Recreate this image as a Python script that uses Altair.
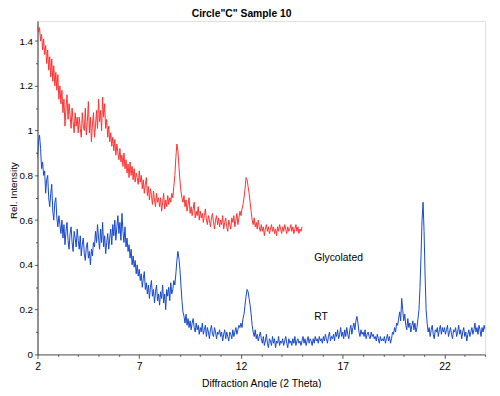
import altair as alt
import pandas as pd

# Sampling grid start/step (2-theta)
x_start = 2.0
x_step = 0.05

rt_values = [
    0.88, 0.95, 0.98, 0.92, 0.83, 0.86, 0.80, 0.82, 0.72, 0.78, 0.80, 0.70, 0.66, 0.72, 0.76, 0.64, 0.60, 0.68, 0.70, 0.61,
    0.57, 0.62, 0.58, 0.54, 0.60, 0.52, 0.58, 0.49, 0.55, 0.59, 0.51, 0.47, 0.54, 0.57, 0.50, 0.46, 0.55, 0.52, 0.48, 0.56,
    0.51, 0.47, 0.53, 0.44, 0.49, 0.52, 0.45, 0.42, 0.48, 0.50, 0.43, 0.46, 0.40, 0.47, 0.44, 0.50, 0.48, 0.55, 0.50, 0.58,
    0.52, 0.47, 0.56, 0.50, 0.59, 0.48, 0.53, 0.45, 0.50, 0.54, 0.47, 0.52, 0.56, 0.49, 0.58, 0.53, 0.60, 0.51, 0.57, 0.62,
    0.54, 0.59, 0.51, 0.63, 0.55, 0.50, 0.57, 0.48, 0.52, 0.46, 0.49, 0.43, 0.47, 0.40, 0.44, 0.39, 0.42, 0.36, 0.40, 0.35,
    0.38, 0.33, 0.36, 0.30, 0.34, 0.37, 0.29, 0.32, 0.27, 0.31, 0.25, 0.30, 0.33, 0.26, 0.29, 0.23, 0.28, 0.31, 0.24, 0.27,
    0.22, 0.28, 0.25, 0.31, 0.23, 0.27, 0.20, 0.29, 0.26, 0.30, 0.24, 0.32, 0.27, 0.29, 0.33, 0.31, 0.36, 0.42, 0.46, 0.43,
    0.38, 0.31, 0.24, 0.19, 0.17, 0.14, 0.18, 0.13, 0.16, 0.12, 0.15, 0.11, 0.14, 0.16, 0.12, 0.10, 0.14, 0.11, 0.13, 0.09,
    0.12, 0.10, 0.14, 0.09, 0.11, 0.13, 0.08, 0.12, 0.10, 0.07, 0.11, 0.13, 0.09, 0.08, 0.12, 0.10, 0.07, 0.10, 0.09, 0.11,
    0.08, 0.10, 0.06, 0.09, 0.11, 0.07, 0.10, 0.08, 0.06, 0.10, 0.09, 0.07, 0.11, 0.08, 0.10, 0.12, 0.09, 0.11, 0.13, 0.12,
    0.14, 0.12, 0.16, 0.18, 0.22, 0.26, 0.29, 0.28, 0.25, 0.22, 0.18, 0.13, 0.10, 0.08, 0.11, 0.07, 0.09, 0.06, 0.08, 0.10,
    0.07, 0.05, 0.08, 0.04, 0.06, 0.09, 0.05, 0.03, 0.07, 0.06, 0.04, 0.08, 0.05, 0.07, 0.03, 0.06, 0.05, 0.08, 0.04, 0.06,
    0.05, 0.07, 0.04, 0.06, 0.08, 0.05, 0.03, 0.07, 0.05, 0.06, 0.04, 0.07, 0.05, 0.08, 0.04, 0.06, 0.07, 0.05, 0.06, 0.04,
    0.06, 0.08, 0.05, 0.07, 0.04, 0.06, 0.08, 0.05, 0.07, 0.06, 0.04, 0.07, 0.05, 0.08, 0.06, 0.07, 0.05, 0.08, 0.06, 0.07,
    0.05, 0.08, 0.06, 0.09, 0.07, 0.05, 0.08, 0.10, 0.06, 0.08, 0.07, 0.09, 0.06, 0.10, 0.08, 0.11, 0.07, 0.09, 0.12, 0.08,
    0.10, 0.07, 0.11, 0.08, 0.12, 0.09, 0.07, 0.11, 0.13, 0.09, 0.12, 0.14, 0.11, 0.15, 0.17, 0.14, 0.10, 0.08, 0.11, 0.09,
    0.10, 0.08, 0.11, 0.07, 0.09, 0.10, 0.08, 0.07, 0.10, 0.08, 0.09, 0.07, 0.08, 0.06, 0.09, 0.07, 0.05, 0.08, 0.06, 0.07,
    0.06, 0.08, 0.05, 0.07, 0.09, 0.06, 0.08, 0.05, 0.07, 0.10, 0.09, 0.12, 0.10, 0.14, 0.13, 0.16, 0.19, 0.15, 0.25, 0.20,
    0.15, 0.18, 0.13, 0.11, 0.16, 0.12, 0.14, 0.10, 0.13, 0.15, 0.11, 0.14, 0.10, 0.12, 0.16, 0.20, 0.30, 0.44, 0.60, 0.68,
    0.55, 0.35, 0.20, 0.14, 0.10, 0.12, 0.08, 0.11, 0.13, 0.09, 0.07, 0.11, 0.10, 0.12, 0.08, 0.11, 0.13, 0.09, 0.12, 0.10,
    0.12, 0.09, 0.11, 0.13, 0.08, 0.10, 0.12, 0.09, 0.07, 0.11, 0.10, 0.12, 0.08, 0.10, 0.13, 0.09, 0.11, 0.07, 0.10, 0.12,
    0.08, 0.10, 0.06, 0.09, 0.11, 0.08, 0.10, 0.12, 0.09, 0.11, 0.14, 0.10, 0.12, 0.09, 0.13, 0.11, 0.08, 0.12, 0.10, 0.13,
    0.11,
]

gly_values = [
    1.47, 1.44, 1.46, 1.40, 1.43, 1.36, 1.41, 1.34, 1.38, 1.30, 1.36, 1.27, 1.33, 1.24, 1.32, 1.22, 1.29, 1.20, 1.26, 1.18,
    1.25, 1.14, 1.20, 1.12, 1.18, 1.08, 1.14, 1.02, 1.10, 1.16, 1.05, 1.12, 1.07, 1.01, 1.10, 1.04, 0.99, 1.08, 1.02, 1.06,
    0.99, 1.06, 1.01, 0.97, 1.08, 1.02, 1.00, 1.10, 0.98, 1.04, 1.13, 0.99, 1.06, 0.95, 1.03, 1.08, 0.97, 1.02, 1.09, 1.01,
    1.14, 1.04, 1.09, 1.00, 1.15, 1.06, 1.12, 1.01, 1.05, 0.97, 1.02, 0.95, 0.99, 0.93, 0.97, 0.91, 0.96, 0.89, 0.94, 0.90,
    0.87, 0.92, 0.86, 0.89, 0.84, 0.90, 0.83, 0.87, 0.81, 0.85, 0.79, 0.86, 0.80, 0.84, 0.78, 0.83, 0.77, 0.81, 0.79, 0.76,
    0.82, 0.77, 0.80, 0.74, 0.78, 0.72, 0.76, 0.79, 0.71, 0.75, 0.69, 0.74, 0.71, 0.67, 0.73, 0.69, 0.66, 0.72, 0.68, 0.70,
    0.66, 0.70, 0.64, 0.68, 0.72, 0.65, 0.69, 0.66, 0.71, 0.67, 0.70, 0.68, 0.72, 0.70, 0.75, 0.80, 0.88, 0.94, 0.91, 0.84,
    0.78, 0.73, 0.70, 0.68, 0.71, 0.66, 0.69, 0.64, 0.67, 0.70, 0.63, 0.66, 0.62, 0.65, 0.68, 0.61, 0.64, 0.62, 0.66, 0.60,
    0.64, 0.61, 0.63, 0.59, 0.62, 0.65, 0.60, 0.58, 0.62, 0.60, 0.57, 0.61, 0.63, 0.59, 0.56, 0.60, 0.62, 0.58, 0.61, 0.57,
    0.60, 0.58, 0.62, 0.56, 0.59, 0.61, 0.57, 0.55, 0.60, 0.58, 0.56, 0.61, 0.59, 0.62, 0.57, 0.60, 0.63, 0.58, 0.61, 0.64,
    0.62, 0.65, 0.67, 0.70, 0.74, 0.79, 0.78, 0.75, 0.72, 0.68, 0.64, 0.60, 0.58, 0.61, 0.57, 0.59, 0.56, 0.60, 0.57, 0.55,
    0.58, 0.55, 0.57, 0.53, 0.56, 0.58, 0.55, 0.57, 0.54, 0.56, 0.58, 0.55, 0.57, 0.54, 0.56, 0.53, 0.57, 0.55, 0.58, 0.56,
    0.54, 0.57, 0.55, 0.58, 0.56, 0.54, 0.57, 0.55, 0.56, 0.58, 0.55, 0.57, 0.54, 0.56, 0.58, 0.55, 0.57, 0.54, 0.56, 0.55,
    0.57,
]

label_texts = ["Glycolated", "RT"]
label_x = [15.6, 15.6]
label_y = [0.43, 0.165]

rows = []
for i, v in enumerate(rt_values):
    rows.append({"x": round(x_start + x_step * i, 2), "y": v, "series": "RT", "order": i})
for i, v in enumerate(gly_values):
    rows.append({"x": round(x_start + x_step * i, 2), "y": v, "series": "Glycolated", "order": i})
df = pd.DataFrame(rows)
labels = pd.DataFrame({"x": label_x, "y": label_y, "text": label_texts})

FONT = "Liberation Sans"

xs = alt.Scale(domain=[2, 24], nice=False, zero=False)
ys = alt.Scale(domain=[0, 1.49], nice=False, zero=True)

x_axis = alt.Axis(
    values=list(range(2, 25)),
    labelExpr="(datum.value - 2) % 5 == 0 ? datum.label : ''",
    tickSize={"condition": {"test": "(datum.value - 2) % 5 == 0", "value": 4}, "value": 2},
    grid=False, title="Diffraction Angle (2 Theta)",
    labelFont=FONT, labelFontSize=10.5, labelColor="black", labelPadding=3, labelOverlap=False,
    titleFont=FONT, titleFontSize=10.5, titleFontWeight="normal", titleColor="black",
    titlePadding=7, domainColor="#555", tickColor="#555", labelFlush=False,
)
y_axis = alt.Axis(
    values=[round(0.1 * k, 1) for k in range(15)],
    labelExpr="round(datum.value * 10) % 2 == 0 ? format(datum.value, '~g') : ''",
    tickSize={"condition": {"test": "round(datum.value * 10) % 2 == 0", "value": 3}, "value": 2},
    grid=False, title="Rel. Intensity",
    labelFont=FONT, labelFontSize=10, labelColor="black", labelPadding=2, labelOverlap=False,
    titleFont=FONT, titleFontSize=10, titleFontWeight="normal", titleColor="black",
    titleX=-19.5, titleY=172,
    domainColor="#333", tickColor="#555", labelFlush=False,
)

lines = alt.Chart(df).mark_line(strokeWidth=1, clip=True).encode(
    x=alt.X("x:Q", scale=xs, axis=x_axis),
    y=alt.Y("y:Q", scale=ys, axis=y_axis),
    color=alt.Color("series:N", scale=alt.Scale(domain=["Glycolated", "RT"], range=["#ff3030", "#1446cc"]), legend=None),
    detail="series:N",
    order="order:Q",
)

text = alt.Chart(labels).mark_text(align="left", baseline="middle", font=FONT, fontSize=10.5, color="black").encode(
    x=alt.X("x:Q", scale=xs, axis=x_axis),
    y=alt.Y("y:Q", scale=ys, axis=y_axis),
    text="text:N",
)

chart = alt.layer(lines, text).properties(
    width=455, height=339,
    autosize=alt.AutoSizeParams(type="none"),
    padding={"left": 30, "top": 10, "right": 7, "bottom": 31},
    title=alt.TitleParams('Circle"C" Sample 10', font=FONT, fontSize=10.5, fontWeight="bold", offset=2, dx=-20, color="black"),
).configure_view(stroke="#777", strokeWidth=1).configure(background="white")

chart.save("out.html", embed_options={"renderer": "svg", "actions": False})
